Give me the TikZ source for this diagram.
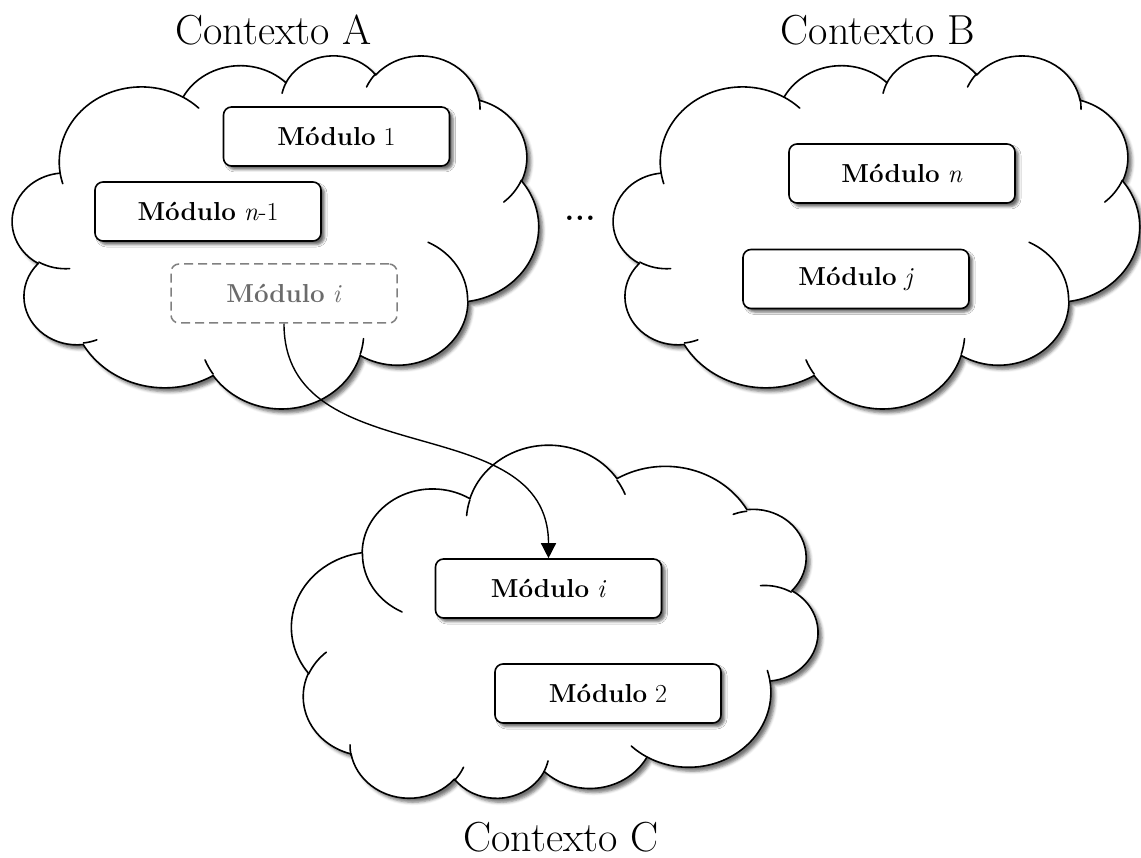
\documentclass[tikz,border=0pt]{standalone}
\usepackage{fontspec}
\usetikzlibrary{arrows.meta,shadows.blur}

% Cloud outline built from eleven elliptical puffs (plus the short inner tails).
% Angles are given as visual angles and turned into parametric ones here.
\makeatletter
\newcommand\cloudpath{}
\newcommand\cloudtails{}
\newcommand\pf@angles[4]{%
  \pgfmathparse{atan2((#1)*sin(#3),(#2)*cos(#3))}\let\pf@a\pgfmathresult
  \pgfmathparse{atan2((#1)*sin((#3)+(#4)),(#2)*cos((#3)+(#4)))}\let\pf@b\pgfmathresult
  \pgfmathparse{mod((\pf@b)-(\pf@a)+720,360)}\let\pf@d\pgfmathresult}
\newcommand\addpuff[4]{\pf@angles{#1}{#2}{#3}{#4}%
  \xdef\cloudpath{\cloudpath arc[x radius=#1,y radius=#2,start angle=\pf@a,delta angle=\pf@d]}}
\newcommand\addtail[6]{\pf@angles{#3}{#4}{#5}{#6}%
  \xdef\cloudtails{\cloudtails (#1,#2) arc[x radius=#3,y radius=#4,start angle=\pf@a,delta angle=\pf@d]}}
\makeatother

% outline puffs: x radius, y radius, start angle, sweep
\addpuff{67.53}{91.90}{-190.48748}{123.78053}
\addpuff{53.33}{72.67}{-144.10238}{89.94523}
\addpuff{43.65}{59.45}{-145.80792}{99.72302}
\addpuff{48.57}{65.95}{-130.98607}{117.24173}
\addpuff{53.33}{72.73}{-78.70888}{109.02692}
\addpuff{67.75}{92.20}{-46.26725}{130.26900}
\addpuff{57.85}{78.67}{0.62502}{114.03333}
\addpuff{67.52}{92.15}{22.45160}{115.17255}
\addpuff{77.20}{105.43}{66.24263}{75.71102}
\addpuff{43.60}{59.18}{-274.94208}{146.73557}
\addpuff{43.45}{59.45}{-246.82850}{152.51885}

% inner tails: start point, x radius, y radius, start angle, sweep
\addtail{46.93}{261.77}{43.45}{59.45}{86.74200}{26.42950}
\addtail{69.28}{348.99}{43.60}{59.18}{73.61047}{11.44747}
\addtail{164.78}{390.90}{67.52}{92.15}{137.62415}{14.08110}
\addtail{288.27}{347.51}{67.52}{92.15}{6.45327}{15.99835}
\addtail{341.29}{229.54}{57.85}{78.67}{-70.29235}{70.91737}
\addtail{417.98}{153.54}{53.33}{72.73}{30.31803}{27.75150}
\addtail{383.24}{54.26}{48.57}{65.95}{-13.74433}{14.85890}
\addtail{290.78}{39.52}{48.57}{65.95}{-149.18145}{18.19537}
\addtail{221.41}{47.20}{43.65}{59.45}{-163.49427}{17.68635}
\addtail{140.00}{51.92}{67.53}{91.90}{-66.70695}{12.31935}
\addtail{41.27}{157.89}{67.53}{91.90}{157.65435}{11.85817}

\newcommand\drawcloud{%
  \path[cloudbody] (39,143.7) \cloudpath -- cycle;
  \path[cloudtail] \cloudtails;}

\begin{document}
\begin{tikzpicture}[x=1pt,y=-1pt,
  cloudbody/.style={fill=white,draw=black,line width=1.6pt,line join=round,
    blur shadow={shadow xshift=4pt,shadow yshift=-4pt,shadow blur radius=3pt,shadow opacity=55}},
  cloudtail/.style={draw=black,line width=1.6pt,line cap=round},
  modbox/.style={draw=black,fill=white,line width=1.6pt,rounded corners=8pt,
    minimum width=226pt,minimum height=59pt,inner sep=0pt,
    font=\fontsize{26}{31}\selectfont,
    blur shadow={shadow xshift=3.5pt,shadow yshift=-3.5pt,shadow blur radius=2.5pt,shadow opacity=60}},
  ghostbox/.style={draw=black!50,fill=white,line width=1.5pt,rounded corners=8pt,
    dash pattern=on 9pt off 5pt,text=black!58,
    minimum width=226pt,minimum height=59pt,inner sep=0pt,
    font=\fontsize{26}{31}\selectfont},
  ctxtitle/.style={anchor=base,inner sep=0pt,font=\fontsize{42}{50}\selectfont},
  flow/.style={draw=black,line width=1.4pt,-{Triangle[length=15pt,width=15pt]}}]

\useasboundingbox (0,0) rectangle (1141,858);

% the three contexts
\begin{scope}[shift={(12.5pt,-54.7pt)},x={(1.21759pt,0pt)},y={(0pt,-0.81713pt)}]
  \drawcloud
\end{scope}
\begin{scope}[shift={(613.5pt,-54.7pt)},x={(1.21759pt,0pt)},y={(0pt,-0.81713pt)}]
  \drawcloud
\end{scope}
\begin{scope}[shift={(817.6pt,-799.5pt)},x={(-1.21759pt,0pt)},y={(0pt,0.81713pt)}]
  \drawcloud
\end{scope}

% titles
\node[ctxtitle] (ta) at (273.5,45) {Contexto A};
\node[ctxtitle] (tb) at (878,45) {Contexto B};
\node[ctxtitle] (tc) at (561,851) {Contexto C};

% modules
\node[modbox] (m1) at (336.5,136.5) {\textbf{Módulo} 1};
\node[modbox] (mn1) at (208,211.5) {\textbf{Módulo} \textit{n}-1};
\node[ghostbox] (mia) at (284,293.5) {\textbf{Módulo} \textit{i}};
\node[modbox] (mn) at (902,173.5) {\textbf{Módulo} \textit{n}};
\node[modbox] (mj) at (856,279) {\textbf{Módulo} \textit{j}};
\node[modbox] (mic) at (548.5,588.5) {\textbf{Módulo} \textit{i}};
\node[modbox] (m2) at (608,693.5) {\textbf{Módulo} 2};

\node[anchor=base,inner sep=0pt,font=\fontsize{31}{36}\bfseries] (dots) at (580,220.5) {.\kern0.8pt.\kern0.8pt.};

% module i moves from context A to context C
\draw[flow] (mia.south) to[out=-90,in=90,looseness=1.1] (mic.north);
\end{tikzpicture}
\end{document}
